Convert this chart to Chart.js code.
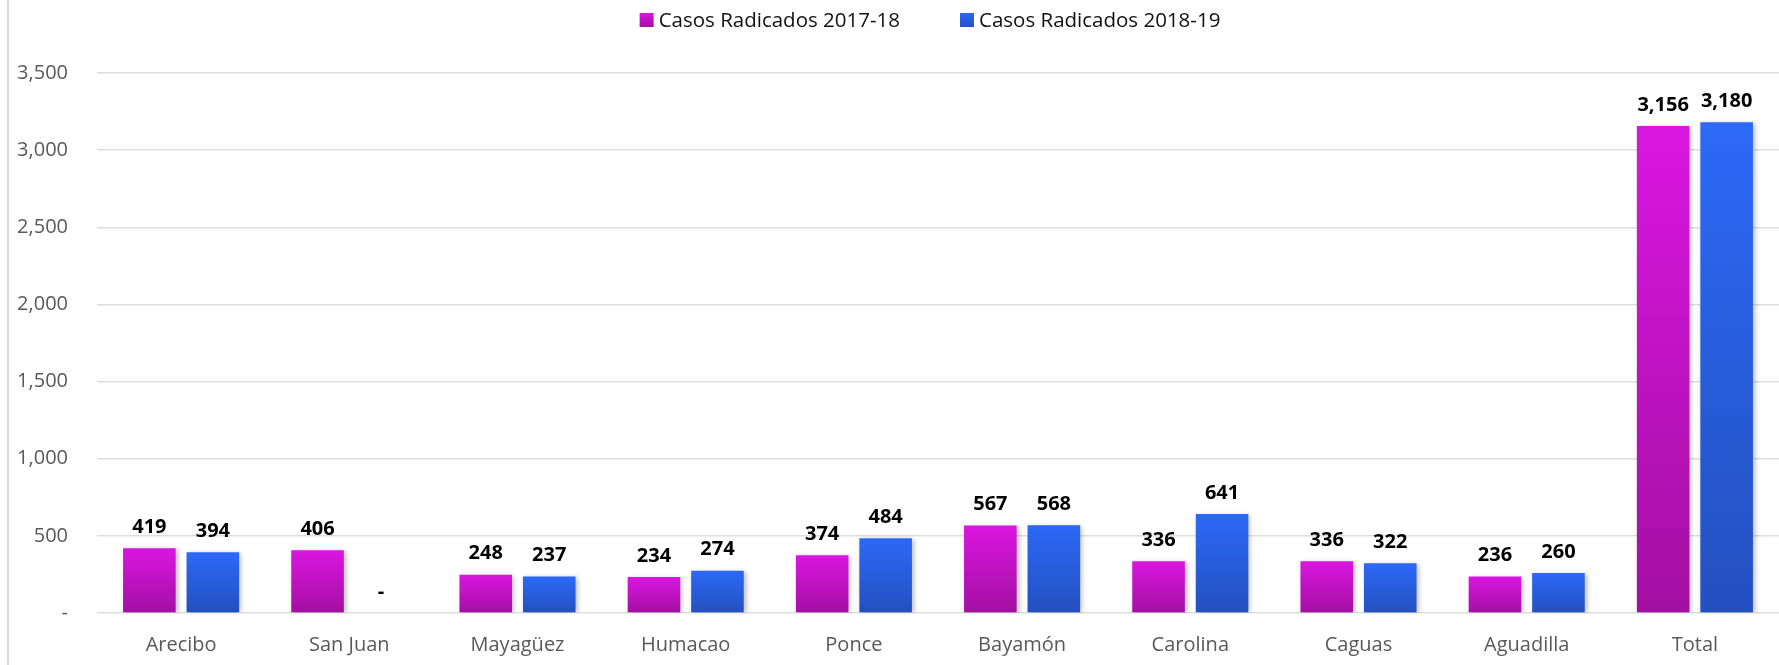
<!DOCTYPE html>
<html>
<head>
<meta charset="utf-8">
<script src="https://cdn.jsdelivr.net/npm/chart.js@4.4.1/dist/chart.umd.min.js"></script>
<style>
  html, body { margin: 0; padding: 0; background: #fff; }
  #wrap { width: 1779px; height: 665px; position: relative; }
</style>
</head>
<body>
<div id="wrap"><canvas id="chart"></canvas></div>
<script>
// data
const categories = ['Arecibo', 'San Juan', 'Mayagüez', 'Humacao', 'Ponce', 'Bayamón', 'Carolina', 'Caguas', 'Aguadilla', 'Total'];
const casos2017 = [419, 406, 248, 234, 374, 567, 336, 336, 236, 3156];
const casos2018 = [394, 0, 237, 274, 484, 568, 641, 322, 260, 3180];
const seriesLabels = ['Casos Radicados 2017-18', 'Casos Radicados 2018-19'];
const yMin = 0, yMax = 3500, yStep = 500;

const FONT = "'Open Sans', 'Noto Sans', sans-serif";
const fmt = v => v === 0 ? '-' : v.toLocaleString('en-US');

// vertical gradient per bar, from its top down to the baseline
function barGradient(top, bottom) {
  return ctx => {
    const chart = ctx.chart;
    if (!chart.chartArea || ctx.type !== 'data') return top;
    const y = chart.scales.y;
    const y0 = y.getPixelForValue(0);
    const y1 = y.getPixelForValue(ctx.raw || 0);
    if (y0 - y1 < 1) return top;
    const g = chart.ctx.createLinearGradient(0, y1, 0, y0);
    g.addColorStop(0, top);
    g.addColorStop(1, bottom);
    return g;
  };
}

const colors = [
  { top: '#DA16E0', bottom: '#A30FA2' },
  { top: '#2C69F7', bottom: '#2350BF' }
];

const decor = {
  id: 'decor',
  beforeDraw(chart) {
    const c = chart.ctx;
    c.save();
    c.strokeStyle = '#D9D9D9';
    c.lineWidth = 2;
    c.beginPath();
    c.moveTo(8, 0);
    c.lineTo(8, chart.height);
    c.stroke();
    c.restore();
  },
  beforeDatasetsDraw(chart) {
    const c = chart.ctx;
    c.save();
    c.shadowColor = 'rgba(0,0,0,0.28)';
    c.shadowBlur = 5;
    c.shadowOffsetX = 2;
    c.shadowOffsetY = 1;
  },
  afterDatasetsDraw(chart) {
    const c = chart.ctx;
    c.restore();
    // value labels
    c.save();
    c.font = 'bold 20px ' + FONT;
    c.fillStyle = '#000';
    c.textAlign = 'center';
    c.textBaseline = 'middle';
    chart.data.datasets.forEach((ds, i) => {
      const meta = chart.getDatasetMeta(i);
      meta.data.forEach((bar, j) => {
        c.fillText(fmt(ds.data[j]), bar.x, bar.y - 21);
      });
    });
    c.restore();
  },
  afterDraw(chart) {
    // legend
    const c = chart.ctx;
    c.save();
    c.font = '20.5px ' + FONT;
    c.textBaseline = 'middle';
    const box = 14, gap = 5, spacing = 60, cy = 20, centerX = 930;
    const widths = seriesLabels.map(t => c.measureText(t).width);
    const total = widths.reduce((a, w) => a + box + gap + w, 0) + spacing * (widths.length - 1);
    let x = centerX - total / 2;
    seriesLabels.forEach((t, i) => {
      const g = c.createLinearGradient(0, cy - box / 2, 0, cy + box / 2);
      g.addColorStop(0, colors[i].top);
      g.addColorStop(1, colors[i].bottom);
      c.fillStyle = g;
      c.fillRect(x, cy - box / 2, box, box);
      x += box + gap;
      c.fillStyle = '#111';
      c.fillText(t, x, cy + 1);
      x += widths[i] + spacing;
    });
    c.restore();
  }
};

new Chart(document.getElementById('chart'), {
  type: 'bar',
  data: {
    labels: categories,
    datasets: [
      { label: seriesLabels[0], data: casos2017, backgroundColor: barGradient(colors[0].top, colors[0].bottom) },
      { label: seriesLabels[1], data: casos2018, backgroundColor: barGradient(colors[1].top, colors[1].bottom) }
    ]
  },
  options: {
    responsive: true,
    maintainAspectRatio: false,
    animation: false,
    devicePixelRatio: 1,
    categoryPercentage: 0.755,
    barPercentage: 0.828,
    layout: { padding: { top: 73, right: -11, bottom: 0, left: 0 } },
    plugins: { legend: { display: false }, tooltip: { enabled: false } },
    scales: {
      x: {
        afterFit: s => { s.height = 52; },
        grid: { display: false, drawTicks: false },
        border: { display: false },
        ticks: { color: '#595959', font: { family: FONT, size: 20 }, padding: 20 }
      },
      y: {
        min: yMin,
        max: yMax,
        afterFit: s => { s.width = 97; },
        grid: { color: '#DDDDDD', lineWidth: 1.5, drawTicks: false },
        border: { display: false },
        ticks: {
          stepSize: yStep,
          padding: 29,
          color: '#595959',
          font: { family: FONT, size: 20 },
          callback: v => fmt(v)
        }
      }
    }
  },
  plugins: [decor]
});
</script>
</body>
</html>
